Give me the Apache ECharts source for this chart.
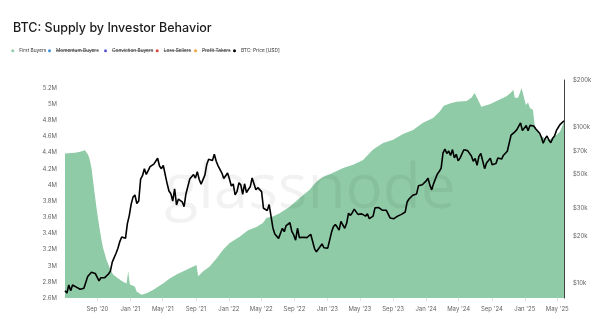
<!DOCTYPE html>
<html><head><meta charset="utf-8">
<script src="https://cdn.jsdelivr.net/npm/echarts@6/dist/echarts.min.js"></script>
<style>html,body{margin:0;padding:0;background:#fff}#c{width:600px;height:327px}</style>
</head><body><div id="c"></div>
<script>
// ---------------- data ----------------
const titleText = 'BTC: Supply by Investor Behavior';
const seriesNames = ['First Buyers', 'Momentum Buyers', 'Conviction Buyers', 'Loss Sellers', 'Profit Takers', 'BTC: Price [USD]'];
const hiddenNames = ['Momentum Buyers', 'Conviction Buyers', 'Loss Sellers', 'Profit Takers'];

// BTC price, weekly samples starting Monday 2020-05-04
const priceFirstWeek = '2020-05-04';
const priceValues = [
  8900, 8600, 9700, 8900, 9700, 9700, 9400, 9300, 9100, 9300, 9250, 9400, 11000, 11200, 11700, 11900, 11500, 11700,
  10300, 10800, 10500, 10800, 10700, 11400, 11900, 13600, 13500, 15500, 16700, 18400, 19700, 19200, 19300, 24000, 27000,
  32000, 35500, 36600, 32300, 33500, 46200, 48700, 54000, 49600, 52400, 55600, 54100, 57700, 58700, 63000, 56200, 54000,
  56600, 55900, 43500, 38800, 37300, 33500, 40100, 31600, 34500, 33700, 33100, 30800, 37300, 38200, 46300, 45900, 49500,
  47000, 51700, 46000, 43000, 42200, 49100, 57500, 62000, 60900, 61000, 66900, 60300, 56300, 57800, 50600, 46700, 46900, 50700,
  46400, 41800, 43100, 36700, 38500, 43800, 42500, 37000, 43200, 38000, 39700, 41300, 47100, 46600, 39500, 40800, 40400,
  38500, 30100, 29800, 29100, 31800, 31400, 22500, 20600, 20700, 19300, 20800, 22400, 21300, 23300, 23800, 24300, 21400,
  20300, 18800, 22400, 19500, 19200, 19600, 19100, 19500, 19600, 20500, 20600, 16600, 15800, 16200, 17100, 17800, 16800, 16700,
  16700, 17200, 21100, 22900, 23700, 22800, 21800, 24800, 23500, 22400, 24100, 28000, 27100, 28200, 29700, 29500, 27500,
  28000, 27700, 27200, 26800, 27700, 25800, 25900, 26800, 30300, 31200, 30400, 30100, 29200, 29200, 29200, 29400, 26100,
  26100, 25800, 25200, 26800, 26300, 27500, 27600, 28500, 33000, 34500, 35000, 36500, 37400, 37200, 41900, 41200, 42600, 43600,
  44900, 47000, 42500, 39500, 43300, 42700, 49900, 51800, 54500, 68300, 72100, 67600, 70000, 65700, 71600, 63400, 66800, 60600,
  63100, 62900, 71400, 69400, 70500, 69600, 65200, 60300, 62800, 56700, 64800, 67600, 66800, 54000, 58700, 59000, 62900,
  57300, 57000, 58200, 63300, 63300, 62200, 65900, 67400, 69900, 68800, 88700, 90500, 93000, 95900, 97400, 106100, 94700, 92600,
  102000, 94500, 102300, 102000, 101400, 97400, 95600, 91500, 86200, 78600, 84000, 87500, 82500, 79200, 84500, 87500, 95000,
  94700, 104000, 105600, 109500
];

// First Buyers supply (millions of BTC)
const areaDates = [
  '2020-05-04','2020-06-10','2020-06-29','2020-07-17','2020-07-29','2020-08-04','2020-08-11','2020-08-17','2020-08-23','2020-08-29',
  '2020-09-04','2020-09-10','2020-09-16','2020-09-22','2020-10-05','2020-10-17','2020-10-29','2020-11-17','2020-12-05','2020-12-18',
  '2020-12-24','2020-12-30','2021-01-18','2021-01-24','2021-02-11','2021-03-02','2021-03-26','2021-05-02','2021-05-27','2021-06-21',
  '2021-07-28','2021-08-22','2021-09-03','2021-09-09','2021-09-28','2021-10-22','2021-11-16','2021-12-11','2022-01-04','2022-02-10',
  '2022-03-13','2022-04-13','2022-05-07','2022-05-20','2022-06-13','2022-07-08','2022-08-14','2022-09-20','2022-10-27','2022-11-21',
  '2022-12-16','2023-01-22','2023-02-28','2023-04-06','2023-05-13','2023-06-19','2023-07-26','2023-09-01','2023-10-08','2023-11-14',
  '2023-12-21','2024-01-27','2024-02-21','2024-03-07','2024-03-29','2024-04-23','2024-05-30','2024-06-17','2024-06-29','2024-07-11',
  '2024-07-24','2024-08-24','2024-09-30','2024-10-25','2024-11-09','2024-11-19','2024-11-25','2024-12-07','2024-12-20','2024-12-26',
  '2025-01-05','2025-01-13','2025-01-20','2025-01-31','2025-02-07','2025-02-25','2025-03-15','2025-04-03','2025-04-22','2025-05-11',
  '2025-05-26'
];
const areaValues = [
  4.39, 4.40, 4.41, 4.43, 4.37, 4.31, 4.19, 4.02, 3.86, 3.71,
  3.57, 3.44, 3.32, 3.22, 3.07, 2.97, 2.89, 2.84, 2.80, 2.78,
  2.93, 2.77, 2.74, 2.68, 2.64, 2.66, 2.70, 2.78, 2.84, 2.89,
  2.95, 2.99, 3.01, 2.87, 2.93, 2.99, 3.09, 3.20, 3.28, 3.36,
  3.44, 3.48, 3.53, 3.59, 3.61, 3.65, 3.73, 3.84, 3.94, 4.04,
  4.10, 4.15, 4.21, 4.25, 4.31, 4.44, 4.52, 4.56, 4.63, 4.68,
  4.77, 4.83, 4.91, 4.98, 5.01, 5.03, 5.04, 5.08, 5.14, 5.06,
  4.97, 5.00, 5.06, 5.10, 5.14, 5.18, 5.08, 5.08, 5.20, 5.12,
  4.99, 5.02, 4.95, 4.93, 4.72, 4.62, 4.58, 4.56, 4.60, 4.66,
  4.78
];

const xTickMonths = ['2020-09','2021-01','2021-05','2021-09','2022-01','2022-05','2022-09','2023-01','2023-05','2023-09',
  '2024-01','2024-05','2024-09','2025-01','2025-05'];
const xMin = '2020-05-04', xMax = '2025-05-26';
const leftMin = 2.6, leftMax = 5.3, leftStep = 0.2;
const rightMin = 8000, rightMax = 200000;
const rightTicks = [10000, 20000, 30000, 50000, 70000, 100000, 200000];

// ---------------- build ----------------
function parseDay(s) { const p = s.split('-').map(Number); return new Date(p[0], p[1] - 1, p[2] || 1).getTime(); }
const p0 = priceFirstWeek.split('-').map(Number);
const priceData = priceValues.map((v, i) => [new Date(p0[0], p0[1] - 1, p0[2] + 7 * i).getTime(), v]);
const areaData = areaDates.map((d, i) => [parseDay(d), areaValues[i]]);
const xTicks = xTickMonths.map(parseDay);
const MON = ['Jan','Feb','Mar','Apr','May','Jun','Jul','Aug','Sep','Oct','Nov','Dec'];

const FONT = 'Inter, "Noto Sans", sans-serif';
const colors = {
  'First Buyers': '#8fcba6', 'Momentum Buyers': '#3d8fe0', 'Conviction Buyers': '#5a55d4',
  'Loss Sellers': '#e2453a', 'Profit Takers': '#f0a135', 'BTC: Price [USD]': '#000000'
};
const legendFont = 4.8;
const legendTextStart = [19.3, 56, 112, 163.7, 202, 241];
const legendY = 50.7;

const cvs = document.createElement('canvas').getContext('2d');
cvs.font = legendFont + 'px ' + FONT;

const legends = seriesNames.map((n, i) => ({
  data: [n], left: legendTextStart[i] - 3 - 5, top: legendY - 3, icon: 'circle',
  itemWidth: 3, itemHeight: 3, padding: 0, selectedMode: false,
  textStyle: { fontSize: legendFont, color: '#333', fontFamily: FONT, lineHeight: 6 }
}));

const strikes = seriesNames.map((n, i) => {
  if (hiddenNames.indexOf(n) < 0) return null;
  const w = cvs.measureText(n).width;
  return { type: 'line', silent: true, z: 100,
    shape: { x1: legendTextStart[i], y1: legendY, x2: legendTextStart[i] + w, y2: legendY },
    style: { stroke: '#333', lineWidth: 0.5 } };
}).filter(Boolean);

const chart = echarts.init(document.getElementById('c'), null, { renderer: 'canvas' });
chart.setOption({
  backgroundColor: '#ffffff',
  animation: false,
  title: { text: titleText, left: 13, top: 22, padding: 0,
    textStyle: { fontSize: 12.5, fontWeight: 500, color: '#1b1b1b', fontFamily: FONT } },
  legend: legends,
  grid: { left: 65, right: 36, top: 80, bottom: 29, containLabel: false },
  xAxis: {
    type: 'value', min: parseDay(xMin), max: parseDay(xMax), scale: true,
    axisLine: { show: false },
    axisTick: { show: true, customValues: xTicks, length: 3, lineStyle: { color: '#e3e3e3' } },
    axisLabel: { customValues: xTicks, fontSize: 6, color: '#666', fontFamily: FONT, margin: 8,
      formatter: v => { const d = new Date(v); return MON[d.getMonth()] + " '" + String(d.getFullYear()).slice(2); } },
    splitLine: { show: false }
  },
  yAxis: [
    { type: 'value', position: 'left', min: leftMin, max: leftMax, interval: leftStep,
      axisLine: { show: false }, axisTick: { show: false }, splitLine: { show: false },
      axisLabel: { fontSize: 6, color: '#666', fontFamily: FONT, margin: 8, showMaxLabel: false,
        formatter: v => (+v.toFixed(1)) + 'M' } },
    { type: 'log', logBase: 10, position: 'right', min: rightMin, max: rightMax,
      axisLine: { show: true, lineStyle: { color: '#444', width: 1 } },
      axisTick: { show: false }, splitLine: { show: false },
      axisLabel: { customValues: rightTicks, fontSize: 6, color: '#666', fontFamily: FONT, margin: 9,
        formatter: v => '$' + Math.round(v / 1000) + 'k' } }
  ],
  graphic: [
    { type: 'text', silent: true, z: 50,
      style: { x: 310, y: 190, text: 'glassnode', fontSize: 62, fontWeight: 'normal', fontFamily: '"Open Sans", Lato, sans-serif',
        fill: 'rgba(0,0,0,0.05)', textAlign: 'center', textVerticalAlign: 'middle' } }
  ].concat(strikes),
  series: [
    { name: 'First Buyers', type: 'line', yAxisIndex: 0, data: areaData, showSymbol: false, symbol: 'none',
      itemStyle: { color: colors['First Buyers'] }, lineStyle: { width: 0 },
      areaStyle: { color: colors['First Buyers'], opacity: 1, origin: 'start' }, z: 1 },
    { name: 'Momentum Buyers', type: 'line', data: [], itemStyle: { color: colors['Momentum Buyers'] } },
    { name: 'Conviction Buyers', type: 'line', data: [], itemStyle: { color: colors['Conviction Buyers'] } },
    { name: 'Loss Sellers', type: 'line', data: [], itemStyle: { color: colors['Loss Sellers'] } },
    { name: 'Profit Takers', type: 'line', data: [], itemStyle: { color: colors['Profit Takers'] } },
    { name: 'BTC: Price [USD]', type: 'line', yAxisIndex: 1, data: priceData, showSymbol: false, symbol: 'none',
      itemStyle: { color: '#000' }, lineStyle: { width: 1.6, color: '#000' }, z: 5 }
  ]
});
</script></body></html>
